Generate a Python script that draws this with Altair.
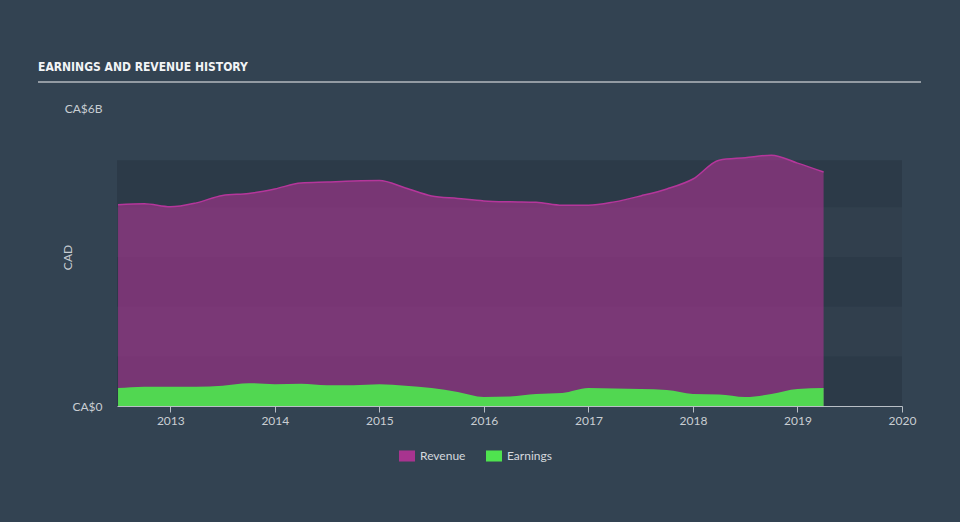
import altair as alt
import pandas as pd

# ---- data (values in CA$ billions) ----
quarters = [2012.5, 2012.75, 2013.0, 2013.25, 2013.5, 2013.75, 2014.0, 2014.25,
            2014.5, 2014.75, 2015.0, 2015.25, 2015.5, 2015.75, 2016.0, 2016.25,
            2016.5, 2016.75, 2017.0, 2017.25, 2017.5, 2017.75, 2018.0, 2018.25,
            2018.5, 2018.75, 2019.0, 2019.25]
revenue = [4.05, 4.07, 4.01, 4.09, 4.24, 4.28, 4.37, 4.49,
           4.51, 4.53, 4.54, 4.39, 4.23, 4.18, 4.13, 4.11,
           4.10, 4.04, 4.04, 4.11, 4.23, 4.37, 4.57, 4.95,
           5.00, 5.05, 4.89, 4.71]
earnings = [0.36, 0.39, 0.39, 0.39, 0.41, 0.46, 0.44, 0.45,
            0.42, 0.42, 0.44, 0.41, 0.36, 0.28, 0.18, 0.19,
            0.24, 0.26, 0.36, 0.35, 0.34, 0.32, 0.24, 0.23,
            0.18, 0.24, 0.34, 0.36]
series_names = ["Revenue", "Earnings"]
year_ticks = [2013, 2014, 2015, 2016, 2017, 2018, 2019, 2020]
band_lo = [0, 1, 2, 3, 4]
band_hi = [1, 2, 3, 4, 4.95]
band_shade = ["dark", "light", "dark", "light", "dark"]
title_text = "EARNINGS AND REVENUE HISTORY"

BG = "#334352"
LABEL = "#c9ced3"
FONT = "Lato"

df = pd.DataFrame({
    "year": quarters * 2,
    "value": revenue + earnings,
    "series": ["Revenue"] * len(quarters) + ["Earnings"] * len(quarters),
})
bands = pd.DataFrame({"lo": band_lo, "hi": band_hi, "shade": band_shade})

x_scale = alt.Scale(domain=[2012.49, 2020], nice=False, zero=False)
y_scale = alt.Scale(domain=[0, 6], nice=False)

x_axis = alt.Axis(values=year_ticks, format="d", title=None, grid=False,
                  domainColor="#b9bfc6", domainWidth=1, tickColor="#b9bfc6",
                  tickSize=6, labelColor=LABEL, labelFontSize=12, labelFont=FONT,
                  labelPadding=3, labelFlush=False)
y_axis = alt.Axis(values=[0, 6], labelExpr="datum.value == 0 ? 'CA$0' : 'CA$6B'",
                  title="CAD", grid=False, domain=False, ticks=False,
                  labelColor=LABEL, labelFontSize=12, labelFont=FONT, labelPadding=15,
                  titleColor=LABEL, titleFont=FONT, titleFontSize=12, titleFontWeight="normal",
                  titleX=-50, titleY=149, titleAngle=270, titleAlign="center",
                  titleBaseline="middle")

band_layer = alt.Chart(bands).mark_rect().encode(
    x=alt.value(0), x2=alt.value("width"),
    y=alt.Y("lo:Q", scale=y_scale, axis=y_axis),
    y2="hi:Q",
    fill=alt.Fill("shade:N", scale=alt.Scale(domain=["dark", "light"],
                                              range=["#2c3a48", "#313f4d"]), legend=None),
)

color_scale = alt.Scale(domain=series_names, range=["#a8348f", "#4fe34f"])
legend = alt.Legend(title=None, orient="none", legendX=282, legendY=340,
                    direction="horizontal", symbolType="M-1,-0.69H1V0.69H-1Z",
                    symbolSize=256, symbolOpacity=1, symbolStrokeWidth=0,
                    labelColor="#d5d9de", labelFontSize=12, labelFont=FONT,
                    labelOffset=5, columnPadding=20)

rev_area = alt.Chart(df).transform_filter(alt.datum.series == "Revenue").mark_area(
    interpolate="monotone", fillOpacity=0.62
).encode(
    x=alt.X("year:Q", scale=x_scale, axis=x_axis),
    y=alt.Y("value:Q", scale=y_scale, stack=None),
    color=alt.Color("series:N", scale=color_scale, legend=legend,
                    sort=series_names),
)
rev_line = alt.Chart(df).transform_filter(alt.datum.series == "Revenue").mark_line(
    interpolate="monotone", color="#b5369b", strokeWidth=1.5
).encode(
    x=alt.X("year:Q", scale=x_scale),
    y=alt.Y("value:Q", scale=y_scale),
)
earn_area = alt.Chart(df).transform_filter(alt.datum.series == "Earnings").mark_area(
    interpolate="monotone", fillOpacity=0.93
).encode(
    x=alt.X("year:Q", scale=x_scale),
    y=alt.Y("value:Q", scale=y_scale, stack=None),
    color=alt.Color("series:N", scale=color_scale, legend=legend, sort=series_names),
)

title_layer = alt.Chart(pd.DataFrame({"t": [title_text]})).mark_text(
    align="left", baseline="middle",
    font="DejaVu Sans Condensed, Roboto, Liberation Sans, sans-serif",
    fontWeight="bold", fontSize=12, color="#f2f4f6"
).encode(x=alt.value(-79), y=alt.value(-41), text="t:N")

underline = alt.Chart(pd.DataFrame({"t": [0]})).mark_rule(
    color="#b4b9bf", strokeWidth=1.5
).encode(x=alt.value(-79), x2=alt.value(804), y=alt.value(-26))

chart = alt.layer(band_layer, rev_area, rev_line, earn_area, title_layer, underline).properties(
    width=785, height=298,
    autosize=alt.AutoSizeParams(type="none"),
    padding={"left": 117, "top": 108, "right": 58, "bottom": 116},
    background=BG,
).configure_view(stroke=None).resolve_scale(fill="independent")

chart.save("out.html", embed_options={"renderer": "svg", "actions": False})
